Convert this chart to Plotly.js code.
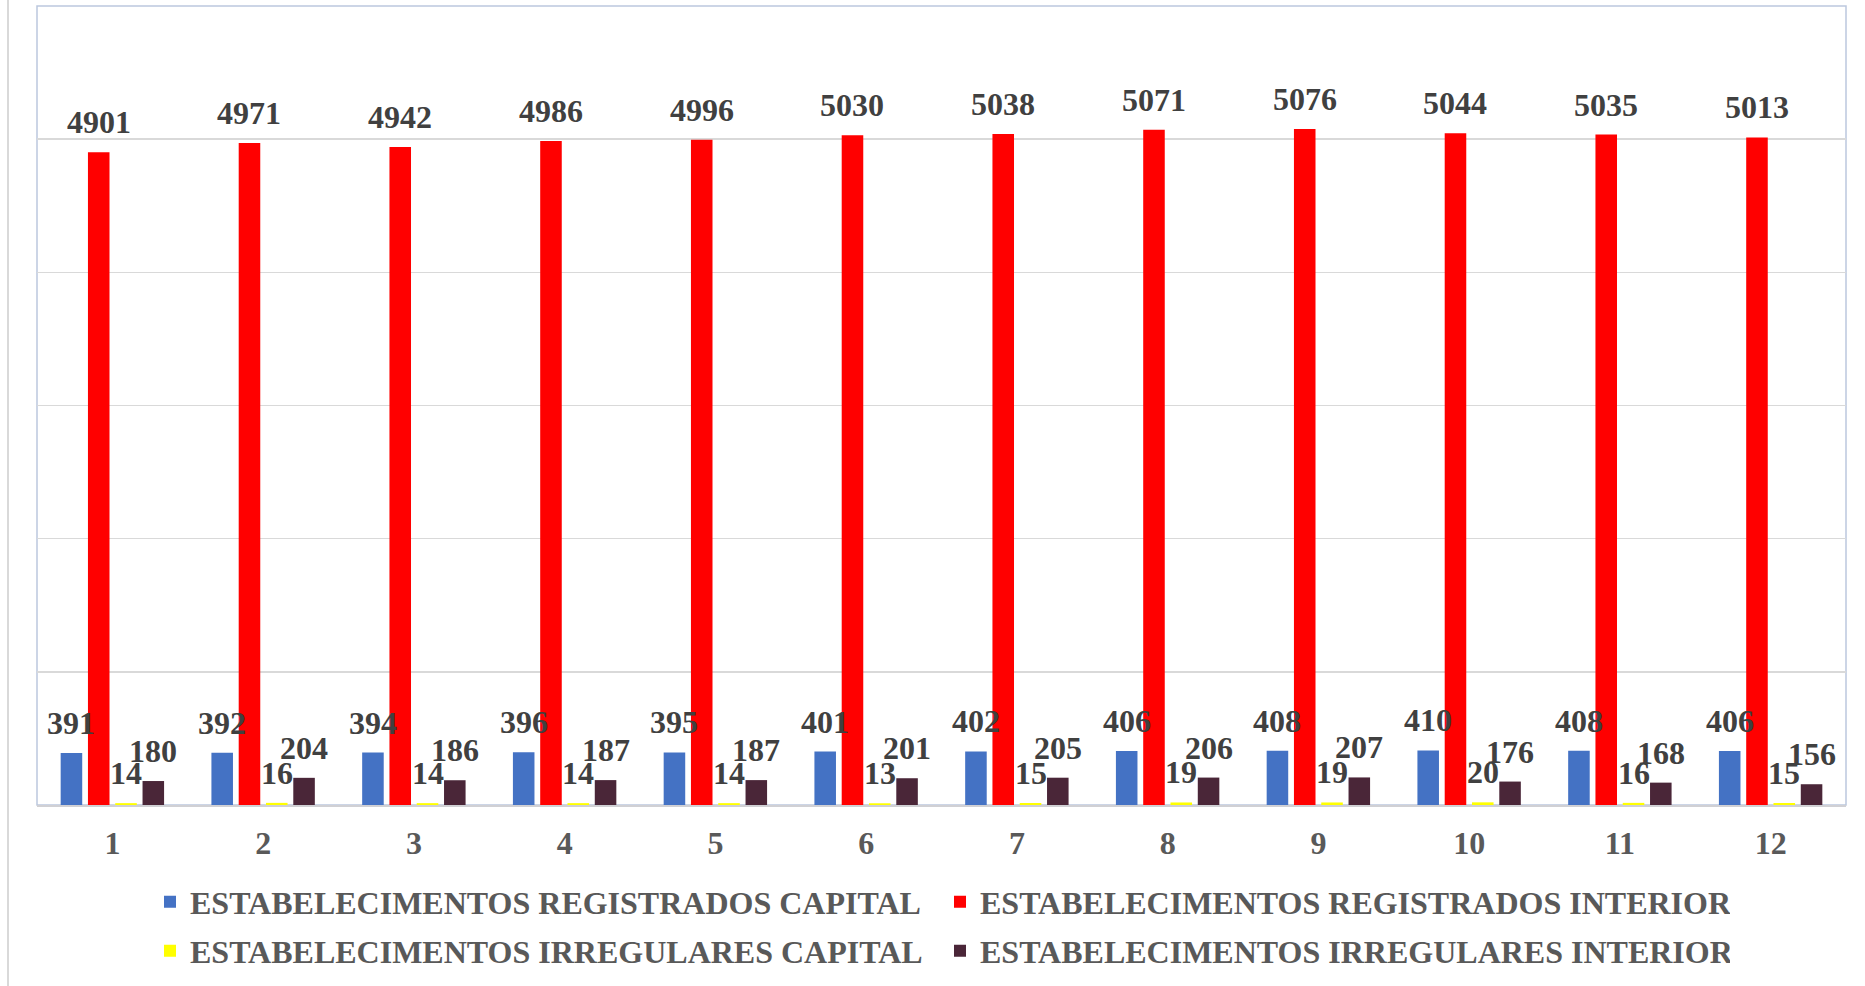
<!DOCTYPE html>
<html>
<head>
<meta charset="utf-8">
<script src="https://cdn.plot.ly/plotly-3.0.1.min.js"></script>
<style>
  html, body { margin: 0; padding: 0; background: #ffffff; }
  #chart { width: 1865px; height: 986px; }
</style>
</head>
<body>
<div id="chart"></div>
<script>
// Months 1..12
const months = ['1', '2', '3', '4', '5', '6', '7', '8', '9', '10', '11', '12'];

// Establishment counts per month
const registradosCapital   = [391, 392, 394, 396, 395, 401, 402, 406, 408, 410, 408, 406];
const registradosInterior  = [4901, 4971, 4942, 4986, 4996, 5030, 5038, 5071, 5076, 5044, 5035, 5013];
const irregularesCapital   = [14, 16, 14, 14, 14, 13, 15, 19, 19, 20, 16, 15];
const irregularesInterior  = [180, 204, 186, 187, 187, 201, 205, 206, 207, 176, 168, 156];

const seriesNames = [
  'ESTABELECIMENTOS REGISTRADOS CAPITAL',
  'ESTABELECIMENTOS REGISTRADOS INTERIOR',
  'ESTABELECIMENTOS IRREGULARES CAPITAL',
  'ESTABELECIMENTOS IRREGULARES INTERIOR'
];
const seriesColors = ['#4472C4', '#FF0000', '#FFFF00', '#4A2638'];
const seriesValues = [registradosCapital, registradosInterior, irregularesCapital, irregularesInterior];
const legendIds = ['legend', 'legend', 'legend2', 'legend2'];

const FONT = '"Liberation Serif", "Times New Roman", serif';
const BARGAP = 0.276;
const BARGROUPGAP = 0.21;

const traces = seriesValues.map((vals, k) => ({
  type: 'bar',
  name: seriesNames[k],
  x: months,
  y: vals,
  legend: legendIds[k],
  marker: { color: seriesColors[k], line: { width: 0 } },
  hoverinfo: 'x+y+name'
}));

// Value labels sit above each bar, centred on its slot within the group
const slot = (1 - BARGAP) / seriesValues.length;
const annotations = [];
seriesValues.forEach((vals, k) => {
  const offset = (k - (seriesValues.length - 1) / 2) * slot;
  vals.forEach((v, i) => {
    annotations.push({
      xref: 'x', yref: 'y',
      x: i + offset, y: v,
      text: '<b>' + v + '</b>',
      showarrow: false,
      xanchor: 'center', yanchor: 'bottom',
      yshift: 10,
      font: { family: FONT, size: 32, color: '#404040' }
    });
  });
});

const legendFont = { family: FONT, size: 32, color: '#595959', weight: 'bold' };

const layout = {
  width: 1865,
  height: 986,
  margin: { l: 37, r: 19, t: 6, b: 181 },
  paper_bgcolor: '#ffffff',
  plot_bgcolor: '#ffffff',
  font: { family: FONT },
  barmode: 'group',
  bargap: BARGAP,
  bargroupgap: BARGROUPGAP,
  xaxis: {
    type: 'category',
    showline: true,
    linecolor: '#D0D0D4',
    linewidth: 2,
    showgrid: false,
    ticks: '',
    ticklabelstandoff: 9,
    tickfont: { family: FONT, size: 32, color: '#595959', weight: 'bold' },
    fixedrange: true
  },
  yaxis: {
    range: [0, 6000],
    dtick: 1000,
    showticklabels: false,
    showgrid: true,
    gridcolor: '#D9D9D9',
    gridwidth: 1.5,
    zeroline: false,
    showline: false,
    fixedrange: true
  },
  showlegend: true,
  legend: {
    orientation: 'h',
    xref: 'container', yref: 'container',
    x: 150 / 1865, xanchor: 'left',
    y: 1 - 902 / 986, yanchor: 'middle',
    entrywidthmode: 'pixels',
    entrywidth: 745,
    font: legendFont,
    bgcolor: 'rgba(0,0,0,0)',
    borderwidth: 0
  },
  legend2: {
    orientation: 'h',
    xref: 'container', yref: 'container',
    x: 150 / 1865, xanchor: 'left',
    y: 1 - 951 / 986, yanchor: 'middle',
    entrywidthmode: 'pixels',
    entrywidth: 745,
    font: legendFont,
    bgcolor: 'rgba(0,0,0,0)',
    borderwidth: 0
  },
  shapes: [
    // plot-area frame
    {
      type: 'rect', xref: 'paper', yref: 'paper',
      x0: 0, x1: 1, y0: 0, y1: 1,
      line: { color: '#BCC8DE', width: 1.5 },
      layer: 'below'
    },
    // outer chart edge on the left
    {
      type: 'line', xref: 'paper', yref: 'paper',
      x0: -29 / 1809, x1: -29 / 1809, y0: -181 / 799, y1: 806 / 799,
      line: { color: '#D9D9D9', width: 2 },
      layer: 'below'
    }
  ],
  annotations: annotations
};

Plotly.newPlot('chart', traces, layout, { displayModeBar: false, staticPlot: true });
</script>
</body>
</html>
